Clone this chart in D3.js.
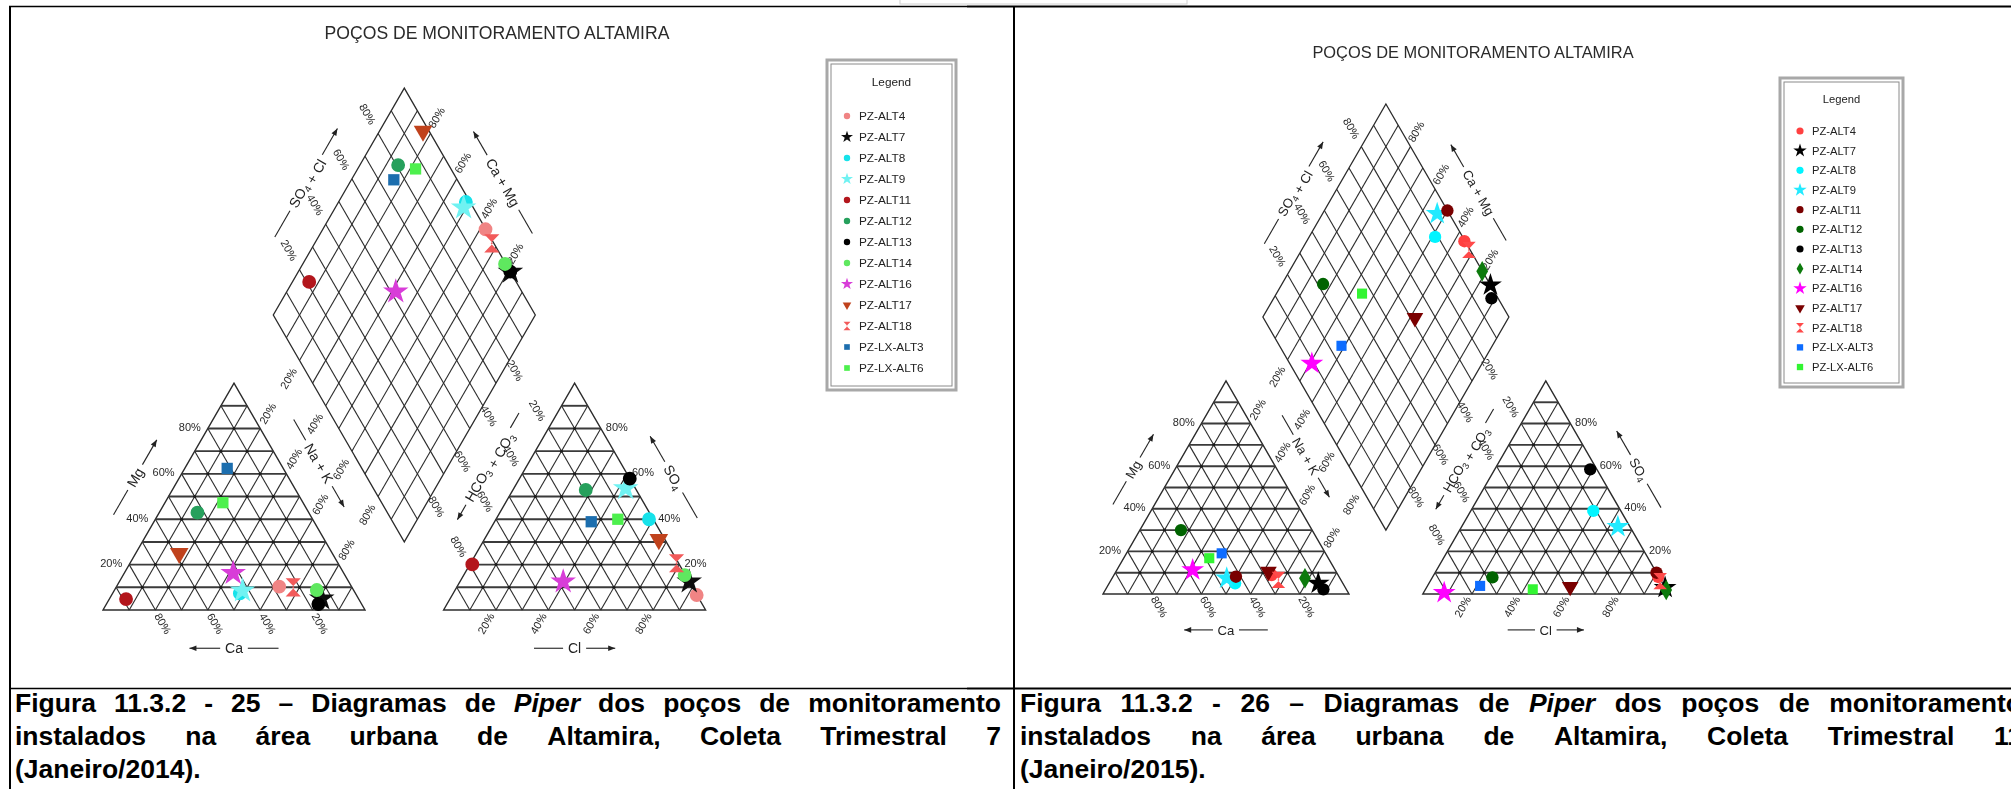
<!DOCTYPE html>
<html>
<head>
<meta charset="utf-8">
<script src="https://cdn.jsdelivr.net/npm/d3@7"></script>
<style>
  html, body { margin: 0; padding: 0; background: #fff; }
  svg { display: block; }
</style>
</head>
<body>
<svg id="fig" width="2011" height="789"></svg>
<script>
// ---- wells (legend order) ----
const wells = ["PZ-ALT4", "PZ-ALT7", "PZ-ALT8", "PZ-ALT9", "PZ-ALT11", "PZ-ALT12", "PZ-ALT13",
               "PZ-ALT14", "PZ-ALT16", "PZ-ALT17", "PZ-ALT18", "PZ-LX-ALT3", "PZ-LX-ALT6"];

// ---- Coleta Trimestral 7 (Janeiro/2014), % meq ----
const c7Ca   = [27.6, 14.0, 44.1, 42.5, 88.8, 42.5, 16.5, 14.0, 42.2, 58.4, 22.4, 21.4, 30.6];
const c7Mg   = [10.3,  5.0,  7.3,  8.5,  4.8, 42.9,  2.6,  8.8, 16.2, 25.0, 10.0, 62.4, 47.3];
const c7NaK  = [62.1, 81.0, 48.6, 49.0,  6.4, 14.6, 80.9, 77.2, 41.6, 16.6, 67.6, 16.2, 22.1];
const c7HCO3 = [ 0.1,  0.0,  1.6,  3.7, 79.0, 19.3,  0.0,  0.3, 48.1,  2.3,  0.8, 24.2, 13.5];
const c7SO4  = [ 6.6, 12.5, 40.0, 53.6, 20.1, 52.9, 57.9, 15.4, 12.5, 31.1, 20.6, 38.9, 40.0];
const c7Cl   = [93.3, 87.5, 58.4, 42.7,  0.9, 27.8, 42.1, 84.3, 39.4, 66.6, 78.6, 36.9, 46.5];

// ---- Coleta Trimestral 11 (Janeiro/2015), % meq ----
const c11Ca   = [27.0, 10.0, 43.8, 46.0, 41.9, 53.3,  9.3, 14.2, 57.9, 27.5, 25.4, 42.2, 48.4];
const c11Mg   = [ 8.9,  5.0,  5.0,  7.4,  8.1, 30.0,  2.2,  7.4, 11.3, 10.5,  6.6, 19.1, 16.8];
const c11NaK  = [64.1, 85.0, 51.2, 46.6, 50.0, 16.7, 88.5, 78.4, 30.8, 62.0, 68.0, 38.7, 34.8];
const c11HCO3 = [ 0.3,  0.0, 11.2,  4.9,  0.0, 67.8,  2.7,  0.1, 91.0, 38.4,  0.5, 74.8, 54.2];
const c11SO4  = [ 8.0,  3.0, 39.0, 31.6, 10.0,  7.8, 58.5,  1.9,  0.6,  3.4,  6.0,  3.8,  2.2];
const c11Cl   = [91.7, 97.0, 49.8, 63.5, 90.0, 24.4, 38.8, 98.0,  8.4, 58.2, 93.5, 21.4, 43.6];

// ---- marker styles ----
const c7Colors  = ["#f08484", "#111111", "#12e2ea", "#6ff2f2", "#b3141c", "#25a05c", "#000000",
                   "#5ee85e", "#d83cd8", "#c0431f", "#f25a5a", "#1f6eae", "#4df04d"];
const c7Shapes  = ["circle", "star", "circle", "star", "circle", "circle", "circle",
                   "circle", "star", "triangleDown", "hourglass", "square", "square"];
const c11Colors = ["#ff3f3f", "#000000", "#00f4ff", "#20eaff", "#7a0000", "#006400", "#000000",
                   "#0a7a0a", "#ff00ff", "#7a0000", "#ff4a4a", "#0a6cff", "#33f533"];
const c11Shapes = ["circle", "star", "circle", "star", "circle", "circle", "circle",
                   "diamond", "star", "triangleDown", "hourglass", "square", "square"];

// ---- texts ----
const tickValues = [20, 40, 60, 80];
const tickLabels = ["20%", "40%", "60%", "80%"];
const chartTitle = "POÇOS DE MONITORAMENTO ALTAMIRA";
const legendTitle = "Legend";
const caption7 = [
  "Figura 11.3.2 - 25 – Diagramas de |Piper| dos poços de monitoramento",
  "instalados na área urbana de Altamira, Coleta Trimestral 7",
  "(Janeiro/2014)."
];
const caption11 = [
  "Figura 11.3.2 - 26 – Diagramas de |Piper| dos poços de monitoramento",
  "instalados na área urbana de Altamira, Coleta Trimestral 11",
  "(Janeiro/2015)."
];

const svg = d3.select("#fig");
const FONT = "'Liberation Sans', Arial, Helvetica, sans-serif";
const S3 = Math.sqrt(3) / 2;
const GAP = 0.3;   // gap between the two triangles, in side lengths

const defs = svg.append("defs");
defs.append("filter").attr("id", "soft7").append("feGaussianBlur").attr("stdDeviation", 0.75);
defs.append("filter").attr("id", "soft11").append("feGaussianBlur").attr("stdDeviation", 0.55);

// custom hourglass marker (two stacked triangles)
function hourglass(size) {
  const s = Math.sqrt(size) * 0.62;
  return `M${-s},${-s * 1.2}L${s},${-s * 1.2}L${-s * 0.15},0L${s},${s * 1.2}L${-s},${s * 1.2}L${s * 0.15},0Z`;
}
function symbolPath(shape, size) {
  if (shape === "hourglass") return hourglass(size);
  const types = { circle: d3.symbolCircle, star: d3.symbolStar, square: d3.symbolSquare,
                  diamond: d3.symbolDiamond, triangleDown: d3.symbolTriangle };
  return d3.symbol().type(types[shape]).size(size)();
}
function symbolTransform(shape) {
  return shape === "triangleDown" ? " rotate(180)" : "";
}

// ---- axis title with lead line and arrow ----
function axisTitle(g, cx, cy, angle, parts, totalLen, arrowAtEnd, fs) {
  const a = g.append("g").attr("transform", `translate(${cx},${cy}) rotate(${angle})`);
  const t = a.append("text").attr("x", 0).attr("y", fs * 0.36)
    .attr("text-anchor", "middle").attr("font-size", fs).attr("font-family", FONT).attr("fill", "#222");
  parts.forEach(p => {
    if (p.sub) {
      t.append("tspan").attr("font-size", fs * 0.7).attr("dy", fs * 0.22).text(p.sub);
      t.append("tspan").attr("dy", -fs * 0.22).text("");
    } else {
      t.append("tspan").text(p.t);
    }
  });
  const tw = t.node().getComputedTextLength();
  const pad = fs * 0.35;
  const h = totalLen / 2;
  a.append("line").attr("x1", -h).attr("x2", -tw / 2 - pad).attr("y1", 0).attr("y2", 0)
    .attr("stroke", "#222").attr("stroke-width", 1.1);
  a.append("line").attr("x1", tw / 2 + pad).attr("x2", h).attr("y1", 0).attr("y2", 0)
    .attr("stroke", "#222").attr("stroke-width", 1.1);
  const ax = arrowAtEnd ? h : -h, dir = arrowAtEnd ? 1 : -1;
  a.append("path").attr("d", `M${ax},0L${ax - dir * 7},-2.8L${ax - dir * 7},2.8Z`).attr("fill", "#222");
}

// ---- one Piper diagram ----
function piper(cfg) {
  const { x0, yb, L, ca, mg, nak, hco3, so4, cl, colors, shapes, blur } = cfg;
  const k = L / 262;
  const sx = d3.scaleLinear().domain([0, 1]).range([x0, x0 + L]);
  const sy = d3.scaleLinear().domain([0, 1]).range([yb, yb - L]);
  const P = (u, v) => [sx(u), sy(v)];
  const cat = (c, m, n) => P(n + m / 2, m * S3);
  const ani = (h, s, c) => P(1 + GAP + c + s / 2, s * S3);
  const dia = (cm, sc) => P(1 + GAP / 2 + (sc - cm) / 2, GAP * S3 + (cm + sc) * S3);
  const line = d3.line();

  const g = svg.append("g").attr("filter", `url(#${blur})`);

  // title
  g.append("text").attr("x", cfg.titleX).attr("y", cfg.titleY).attr("text-anchor", "middle")
    .attr("font-family", FONT).attr("font-size", cfg.titleSize).attr("fill", "#2a2a2a").text(chartTitle);

  const grid = g.append("g").attr("fill", "none").attr("stroke", "#2b2b2b").attr("stroke-width", 1.1);
  const heavy = g.append("g").attr("fill", "none").attr("stroke", "#3a3a3a").attr("stroke-width", 1.9);
  const ticks = d3.range(1, 10).map(i => i / 10);

  // cation triangle
  ticks.forEach(t => {
    heavy.append("path").attr("d", line([cat(1 - t, t, 0), cat(0, t, 1 - t)]));
    grid.append("path").attr("d", line([cat(1 - t, 0, t), cat(0, 1 - t, t)]));
    grid.append("path").attr("d", line([cat(t, 0, 1 - t), cat(t, 1 - t, 0)]));
  });
  grid.append("path").attr("d", line([cat(1, 0, 0), cat(0, 0, 1), cat(0, 1, 0)]) + "Z").attr("stroke-width", 1.4);
  // anion triangle
  ticks.forEach(t => {
    heavy.append("path").attr("d", line([ani(1 - t, t, 0), ani(0, t, 1 - t)]));
    grid.append("path").attr("d", line([ani(1 - t, 0, t), ani(0, 1 - t, t)]));
    grid.append("path").attr("d", line([ani(t, 0, 1 - t), ani(t, 1 - t, 0)]));
  });
  grid.append("path").attr("d", line([ani(1, 0, 0), ani(0, 0, 1), ani(0, 1, 0)]) + "Z").attr("stroke-width", 1.4);
  // diamond
  ticks.forEach(t => {
    grid.append("path").attr("d", line([dia(t, 0), dia(t, 1)]));
    grid.append("path").attr("d", line([dia(0, t), dia(1, t)]));
  });
  grid.append("path").attr("d", line([dia(0, 0), dia(1, 0), dia(1, 1), dia(0, 1)]) + "Z").attr("stroke-width", 1.3);

  // node dots inside the triangles
  const nodes = g.append("g").attr("fill", "#1a1a1a");
  for (let i = 1; i < 10; i++) for (let j = 1; i + j < 10; j++) {
    const a = i / 10, b = j / 10, c = 1 - a - b;
    const p1 = cat(a, b, c), p2 = ani(a, b, c);
    nodes.append("circle").attr("cx", p1[0]).attr("cy", p1[1]).attr("r", 1.5);
    nodes.append("circle").attr("cx", p2[0]).attr("cy", p2[1]).attr("r", 1.5);
  }

  // tick labels
  const lab = g.append("g").attr("font-family", FONT).attr("font-size", 11).attr("fill", "#2a2a2a");
  function tl(pt, dx, dy, rot, txt, anchor) {
    lab.append("text").attr("transform", `translate(${pt[0] + dx * k},${pt[1] + dy * k}) rotate(${rot})`)
      .attr("text-anchor", anchor || "middle").attr("dy", "0.35em").text(txt);
  }
  tickValues.forEach((v, i) => {
    const f = v / 100, s = tickLabels[i];
    tl(cat(1 - f, f, 0), -7, -1.5, 0, s, "end");        // Mg
    tl(cat(f, 0, 1 - f), 7.5, 13.5, 60, s);             // Ca
    tl(cat(0, 1 - f, f), 7.5, -15, -60, s);             // Na + K
    tl(ani(0, f, 1 - f), 5, -1.5, 0, s, "start");       // SO4
    tl(ani(1 - f, 0, f), -10, 13.5, -60, s);            // Cl
    tl(ani(f, 1 - f, 0), -11, -18, 60, s);              // HCO3 + CO3
    tl(dia(1, f), -10.5, -19.5, 60, s);                 // SO4 + Cl
    tl(dia(f, 1), 6, -16, -60, s);                      // Ca + Mg
    tl(dia(1 - f, 0), -11, 18, -60, s);                 // Na + K (diamond)
    tl(dia(0, 1 - f), 6, 10, 60, s);                    // HCO3 + CO3 (diamond)
  });

  // axis titles
  const fs = 14 * k;
  const off = (pt, nx, ny, n, ax, ay, a) => [pt[0] + nx * n * L + ax * a * L, pt[1] + ny * n * L + ay * a * L];
  let c;
  c = off(cat(0.5, 0.5, 0), -0.866, -0.5, 0.147, 0.5, -0.866, 0);
  axisTitle(g, c[0], c[1], -60, [{ t: "Mg" }], 0.33 * L, true, fs);
  c = off(cat(0.5, 0, 0.5), 0, 1, 0.146, 1, 0, 0);
  axisTitle(g, c[0], c[1], 0, [{ t: "Ca" }], 0.34 * L, false, fs);
  c = off(ani(0.5, 0, 0.5), 0, 1, 0.146, 1, 0, 0);
  axisTitle(g, c[0], c[1], 0, [{ t: "Cl" }], 0.31 * L, true, fs);
  c = off(ani(0, 0.5, 0.5), 0.866, -0.5, 0.148, 1, 0, 0);
  axisTitle(g, c[0], c[1], 60, [{ t: "SO" }, { sub: "4" }], 0.36 * L, false, fs);
  c = off(dia(0.5, 0), -0.866, 0.5, 0.132, 0.5, 0.866, 0.077);
  axisTitle(g, c[0], c[1], 60, [{ t: "Na + K" }], 0.385 * L, true, fs);
  c = off(dia(0, 0.5), 0.866, 0.5, 0.133, -0.5, 0.866, 0.09);
  axisTitle(g, c[0], c[1], -60, [{ t: "HCO" }, { sub: "3" }, { t: " + CO" }, { sub: "3" }], 0.47 * L, false, fs);
  c = off(dia(1, 0.5), -0.866, -0.5, 0.144, 0.5, -0.866, 0);
  axisTitle(g, c[0], c[1], -60, [{ t: "SO" }, { sub: "4" }, { t: " + Cl" }], 0.478 * L, true, fs);
  c = off(dia(0.5, 1), 0.866, -0.5, 0.146, 1, 0, 0);
  axisTitle(g, c[0], c[1], 60, [{ t: "Ca + Mg" }], 0.45 * L, false, fs);

  // samples
  const pts = g.append("g");
  wells.forEach((w, i) => {
    const tc = ca[i] + mg[i] + nak[i], ta = hco3[i] + so4[i] + cl[i];
    const C = ca[i] / tc, M = mg[i] / tc, N = nak[i] / tc;
    const H = hco3[i] / ta, S = so4[i] / ta, Cl = cl[i] / ta;
    const size = cfg.markSize * (shapes[i] === "star" ? 1.35 : shapes[i] === "square" ? 0.85 : 1);
    [cat(C, M, N), ani(H, S, Cl), dia(C + M, S + Cl)].forEach(p => {
      pts.append("path").attr("d", symbolPath(shapes[i], size))
        .attr("transform", `translate(${p[0]},${p[1]})${symbolTransform(shapes[i])}`)
        .attr("fill", colors[i]);
    });
  });

  // legend
  const lg = cfg.legend;
  const lgG = g.append("g");
  lgG.append("rect").attr("x", lg.x).attr("y", lg.y).attr("width", lg.w).attr("height", lg.h)
    .attr("fill", "#fff").attr("stroke", "#a8a8a8").attr("stroke-width", 3);
  lgG.append("rect").attr("x", lg.x + 4).attr("y", lg.y + 4).attr("width", lg.w - 8).attr("height", lg.h - 8)
    .attr("fill", "none").attr("stroke", "#8a8a8a").attr("stroke-width", 1);
  lgG.append("text").attr("x", lg.x + lg.w / 2).attr("y", lg.titleY).attr("text-anchor", "middle")
    .attr("font-family", FONT).attr("font-size", lg.fs).attr("fill", "#222").text(legendTitle);
  wells.forEach((w, i) => {
    const y = lg.y0 + i * lg.step;
    const size = lg.mark * (shapes[i] === "star" ? 1.4 : 1);
    lgG.append("path").attr("d", symbolPath(shapes[i], size))
      .attr("transform", `translate(${lg.sx},${y})${symbolTransform(shapes[i])}`).attr("fill", colors[i]);
    lgG.append("text").attr("x", lg.tx).attr("y", y).attr("dy", "0.36em")
      .attr("font-family", FONT).attr("font-size", lg.fs).attr("fill", "#222").text(w);
  });
}

// ---- page frame (table borders) ----
const frame = svg.append("g").attr("stroke", "#000").attr("fill", "none");
frame.append("rect").attr("x", 900).attr("y", -2).attr("width", 287).attr("height", 6)
  .attr("stroke", "#d0d0d0").attr("stroke-width", 1);
[6.5, 688.5].forEach(y => {
  frame.append("line").attr("x1", 9).attr("x2", 967).attr("y1", y).attr("y2", y).attr("stroke-width", 1.3);
  frame.append("line").attr("x1", 967).attr("x2", 2011).attr("y1", y).attr("y2", y).attr("stroke-width", 2.2);
});
frame.append("line").attr("x1", 10).attr("x2", 10).attr("y1", 6).attr("y2", 789).attr("stroke-width", 2);
frame.append("line").attr("x1", 1014).attr("x2", 1014).attr("y1", 6).attr("y2", 789).attr("stroke-width", 2);

piper({
  x0: 103, yb: 610, L: 262, ca: c7Ca, mg: c7Mg, nak: c7NaK, hco3: c7HCO3, so4: c7SO4, cl: c7Cl,
  colors: c7Colors, shapes: c7Shapes, blur: "soft7", markSize: 150,
  titleX: 497, titleY: 38.5, titleSize: 17.6,
  legend: { x: 827, y: 60, w: 129, h: 330, titleY: 86, fs: 11.8, y0: 116, step: 21, sx: 847, tx: 859, mark: 32 }
});
piper({
  x0: 1103, yb: 594, L: 246, ca: c11Ca, mg: c11Mg, nak: c11NaK, hco3: c11HCO3, so4: c11SO4, cl: c11Cl,
  colors: c11Colors, shapes: c11Shapes, blur: "soft11", markSize: 120,
  titleX: 1473, titleY: 58, titleSize: 16.4,
  legend: { x: 1780, y: 78, w: 123, h: 309, titleY: 103, fs: 11.2, y0: 131, step: 19.67, sx: 1800, tx: 1812, mark: 40 }
});

// ---- captions (justified lines) ----
function captionBlock(lines, x, width, y0, lh, fs) {
  const cg = svg.append("g").attr("font-family", FONT).attr("font-weight", "bold")
    .attr("font-size", fs).attr("fill", "#000");
  lines.forEach((ln, li) => {
    const y = y0 + li * lh;
    const words = ln.split(" ").filter(w => w.length);
    const nodes = words.map(w => {
      const italic = w.startsWith("|");
      const t = cg.append("text").attr("y", y).text(italic ? w.replace(/\|/g, "") : w);
      if (italic) t.attr("font-style", "italic");
      return t;
    });
    const widths = nodes.map(n => n.node().getComputedTextLength());
    const total = d3.sum(widths);
    const justify = li < lines.length - 1;
    const space = justify ? Math.max(2, (width - total) / (words.length - 1)) : fs * 0.278;
    let cx = x;
    nodes.forEach((n, i) => { n.attr("x", cx); cx += widths[i] + space; });
  });
}
captionBlock(caption7, 15, 986, 712, 33, 26.5);
captionBlock(caption11, 1020, 1002, 712, 33, 26.5);
</script>
</body>
</html>
